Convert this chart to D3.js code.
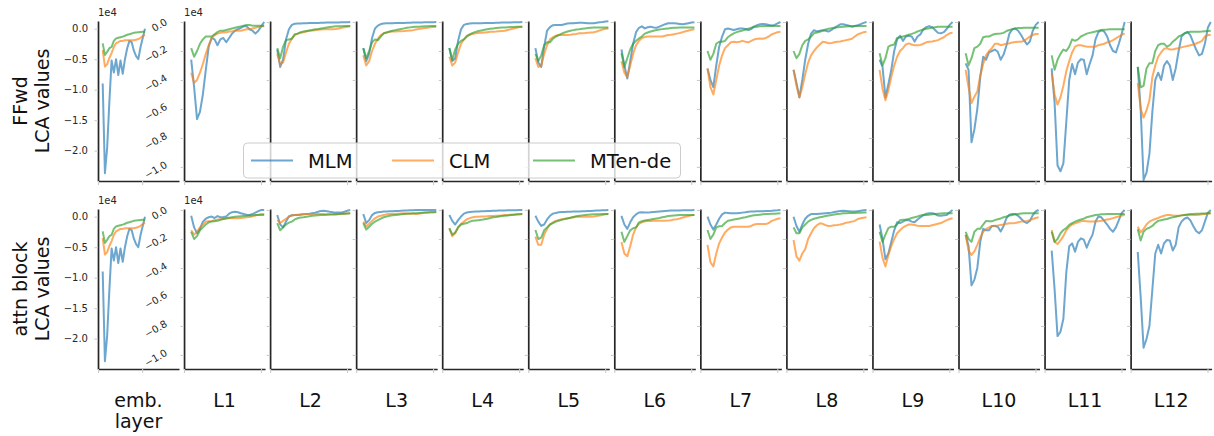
<!DOCTYPE html>
<html>
<head>
<meta charset="utf-8">
<script src="https://cdn.jsdelivr.net/npm/d3@7"></script>
<style>
  body { margin: 0; background: #fff; }
  text { font-family: "DejaVu Sans", sans-serif; }
</style>
</head>
<body>
<div id="chart"></div>
<script>
// labels
var models = ["MLM", "CLM", "MTen-de"];
var colLabels = ["emb.\nlayer", "L1", "L2", "L3", "L4", "L5", "L6", "L7", "L8", "L9", "L10", "L11", "L12"];
var rowLabels = ["FFwd\nLCA values", "attn block\nLCA values"];

// tick values (values are in units of 1e4)
var yTicksEmb = [0, -0.5, -1.0, -1.5, -2.0];
var yTicksL = [0, -0.2, -0.4, -0.6, -0.8, -1.0];

// embedding layer (same for both rows)
var embMLM = [-0.9, -2.37, -1.95, -1.2, -0.52, -0.72, -0.5, -0.76, -0.52, -0.74, -0.5, -0.32, -0.2, -0.22, -0.36, -0.45, -0.5, -0.3, -0.15, 0.0];
var embCLM = [-0.35, -0.62, -0.58, -0.48, -0.4, -0.3, -0.24, -0.22, -0.2, -0.2, -0.19, -0.19, -0.19, -0.19, -0.19, -0.18, -0.17, -0.15, -0.12, -0.1];
var embMTen = [-0.24, -0.43, -0.38, -0.32, -0.3, -0.2, -0.16, -0.15, -0.14, -0.13, -0.115, -0.1, -0.09, -0.08, -0.068, -0.062, -0.058, -0.055, -0.052, -0.05];

// FFwd rows, one array per layer L1..L12
var ffwdMLM = [
  [-0.26, -0.45, -0.67, -0.62, -0.50, -0.33, -0.17, -0.11, -0.12, -0.16, -0.12, -0.11, -0.14, -0.11, -0.08, -0.06, -0.05, -0.04, -0.03, -0.03, -0.05, -0.06, -0.08, -0.06, -0.03, 0.0],
  [-0.19, -0.31, -0.26, -0.12, -0.05, -0.02, -0.012, -0.01, -0.01, -0.008, -0.008, -0.007, -0.007, -0.006, -0.006, -0.005, -0.005, -0.004, -0.004, -0.003, -0.003, -0.003, -0.002, -0.002, -0.001, 0.0],
  [-0.18, -0.27, -0.22, -0.11, -0.045, -0.025, -0.014, -0.01, -0.009, -0.008, -0.008, -0.007, -0.007, -0.006, -0.006, -0.005, -0.005, -0.004, -0.004, -0.003, -0.003, -0.002, -0.002, -0.001, -0.001, 0.0],
  [-0.18, -0.27, -0.25, -0.13, -0.05, -0.02, -0.013, -0.01, -0.009, -0.009, -0.008, -0.008, -0.007, -0.007, -0.006, -0.006, -0.005, -0.005, -0.004, -0.004, -0.003, -0.003, -0.002, -0.002, -0.001, 0.0],
  [-0.18, -0.28, -0.31, -0.17, -0.06, -0.035, -0.022, -0.02, -0.02, -0.02, -0.015, -0.01, -0.009, -0.008, -0.006, -0.005, -0.005, -0.006, -0.008, -0.009, -0.008, -0.005, -0.002, 0.0, 0.003, 0.005],
  [-0.19, -0.3, -0.39, -0.27, -0.15, -0.07, -0.04, -0.03, -0.044, -0.036, -0.032, -0.038, -0.04, -0.032, -0.023, -0.015, -0.009, -0.009, -0.009, -0.01, -0.013, -0.016, -0.012, -0.008, -0.004, -0.002],
  [-0.32, -0.4, -0.45, -0.3, -0.17, -0.1, -0.05, -0.045, -0.05, -0.055, -0.05, -0.045, -0.044, -0.048, -0.055, -0.048, -0.03, -0.022, -0.016, -0.014, -0.016, -0.02, -0.024, -0.02, -0.01, 0.0],
  [-0.33, -0.42, -0.52, -0.4, -0.26, -0.15, -0.08, -0.057, -0.065, -0.06, -0.056, -0.06, -0.066, -0.055, -0.04, -0.028, -0.016, -0.015, -0.02, -0.026, -0.032, -0.028, -0.022, -0.015, -0.006, 0.0],
  [-0.26, -0.31, -0.52, -0.43, -0.33, -0.2, -0.12, -0.095, -0.13, -0.1, -0.095, -0.1, -0.135, -0.1, -0.085, -0.05, -0.035, -0.028, -0.035, -0.055, -0.075, -0.078, -0.07, -0.048, -0.02, 0.0],
  [-0.285, -0.33, -0.83, -0.74, -0.6, -0.38, -0.24, -0.26, -0.21, -0.2, -0.19, -0.205, -0.26, -0.225, -0.16, -0.08, -0.05, -0.045, -0.06, -0.09, -0.125, -0.155, -0.135, -0.06, -0.02, 0.0],
  [-0.32, -0.56, -0.99, -1.03, -0.975, -0.69, -0.4, -0.29, -0.36, -0.28, -0.257, -0.26, -0.36, -0.29, -0.23, -0.12, -0.07, -0.058, -0.065, -0.1, -0.16, -0.2, -0.21, -0.15, -0.08, 0.0],
  [-0.31, -0.6, -1.09, -1.04, -0.91, -0.62, -0.4, -0.35, -0.4, -0.3, -0.27, -0.3, -0.4, -0.32, -0.2, -0.1, -0.08, -0.068, -0.09, -0.14, -0.19, -0.23, -0.22, -0.15, -0.04, 0.0]
];
var ffwdCLM = [
  [-0.35, -0.42, -0.40, -0.35, -0.29, -0.22, -0.16, -0.11, -0.09, -0.08, -0.075, -0.07, -0.07, -0.065, -0.065, -0.06, -0.06, -0.06, -0.055, -0.05, -0.05, -0.045, -0.04, -0.035, -0.03, -0.03],
  [-0.22, -0.29, -0.28, -0.21, -0.15, -0.115, -0.09, -0.08, -0.075, -0.07, -0.065, -0.06, -0.058, -0.056, -0.054, -0.052, -0.05, -0.05, -0.05, -0.05, -0.048, -0.045, -0.04, -0.036, -0.032, -0.03],
  [-0.23, -0.3, -0.27, -0.2, -0.15, -0.115, -0.09, -0.078, -0.072, -0.068, -0.066, -0.065, -0.064, -0.063, -0.062, -0.06, -0.058, -0.056, -0.052, -0.048, -0.045, -0.042, -0.04, -0.037, -0.034, -0.032],
  [-0.24, -0.3, -0.28, -0.21, -0.15, -0.12, -0.095, -0.088, -0.082, -0.078, -0.076, -0.074, -0.072, -0.07, -0.068, -0.067, -0.066, -0.064, -0.062, -0.06, -0.055, -0.05, -0.045, -0.04, -0.035, -0.032],
  [-0.25, -0.31, -0.3, -0.22, -0.16, -0.12, -0.105, -0.095, -0.09, -0.09, -0.09, -0.09, -0.088, -0.085, -0.082, -0.078, -0.077, -0.076, -0.074, -0.072, -0.07, -0.065, -0.058, -0.052, -0.047, -0.044],
  [-0.27, -0.35, -0.38, -0.3, -0.22, -0.16, -0.13, -0.11, -0.104, -0.1, -0.1, -0.1, -0.1, -0.1, -0.1, -0.095, -0.09, -0.088, -0.084, -0.08, -0.076, -0.07, -0.064, -0.058, -0.053, -0.05],
  [-0.32, -0.45, -0.5, -0.4, -0.3, -0.23, -0.18, -0.16, -0.14, -0.136, -0.14, -0.136, -0.13, -0.136, -0.14, -0.13, -0.12, -0.115, -0.113, -0.115, -0.11, -0.1, -0.085, -0.078, -0.07, -0.067],
  [-0.33, -0.44, -0.52, -0.45, -0.36, -0.28, -0.23, -0.2, -0.175, -0.155, -0.136, -0.14, -0.147, -0.145, -0.14, -0.136, -0.134, -0.13, -0.125, -0.12, -0.115, -0.1, -0.085, -0.078, -0.07, -0.067],
  [-0.33, -0.46, -0.54, -0.47, -0.38, -0.3, -0.24, -0.2, -0.18, -0.155, -0.147, -0.155, -0.16, -0.16, -0.158, -0.15, -0.14, -0.136, -0.134, -0.13, -0.125, -0.115, -0.105, -0.09, -0.078, -0.074],
  [-0.33, -0.45, -0.56, -0.515, -0.48, -0.37, -0.29, -0.23, -0.2, -0.18, -0.15, -0.15, -0.16, -0.155, -0.15, -0.147, -0.142, -0.138, -0.136, -0.136, -0.13, -0.115, -0.1, -0.09, -0.083, -0.083],
  [-0.354, -0.5, -0.57, -0.52, -0.44, -0.34, -0.27, -0.21, -0.17, -0.16, -0.16, -0.165, -0.17, -0.17, -0.17, -0.17, -0.16, -0.155, -0.15, -0.14, -0.135, -0.125, -0.113, -0.1, -0.088, -0.078],
  [-0.42, -0.6, -0.66, -0.61, -0.54, -0.38, -0.3, -0.24, -0.21, -0.185, -0.18, -0.19, -0.19, -0.185, -0.18, -0.175, -0.17, -0.165, -0.16, -0.155, -0.148, -0.14, -0.13, -0.1, -0.09, -0.09]
];
var ffwdMTen = [
  [-0.18, -0.24, -0.2, -0.15, -0.12, -0.10, -0.10, -0.10, -0.085, -0.07, -0.06, -0.06, -0.055, -0.05, -0.045, -0.04, -0.035, -0.03, -0.025, -0.02, -0.02, -0.025, -0.025, -0.025, -0.025, -0.025],
  [-0.18, -0.25, -0.17, -0.125, -0.12, -0.115, -0.085, -0.08, -0.07, -0.066, -0.062, -0.058, -0.055, -0.05, -0.048, -0.045, -0.042, -0.038, -0.034, -0.032, -0.03, -0.03, -0.029, -0.028, -0.028, -0.028],
  [-0.18, -0.25, -0.2, -0.14, -0.12, -0.125, -0.1, -0.078, -0.072, -0.066, -0.06, -0.056, -0.052, -0.048, -0.044, -0.04, -0.037, -0.035, -0.033, -0.032, -0.031, -0.03, -0.029, -0.028, -0.028, -0.028],
  [-0.18, -0.26, -0.19, -0.15, -0.13, -0.12, -0.1, -0.085, -0.075, -0.068, -0.062, -0.058, -0.054, -0.05, -0.047, -0.044, -0.042, -0.04, -0.038, -0.037, -0.036, -0.035, -0.034, -0.033, -0.032, -0.032],
  [-0.22, -0.27, -0.23, -0.16, -0.14, -0.14, -0.115, -0.1, -0.09, -0.08, -0.072, -0.066, -0.06, -0.056, -0.052, -0.05, -0.047, -0.044, -0.042, -0.04, -0.038, -0.037, -0.037, -0.037, -0.037, -0.037],
  [-0.216, -0.31, -0.25, -0.19, -0.15, -0.13, -0.113, -0.1, -0.08, -0.072, -0.066, -0.06, -0.055, -0.052, -0.049, -0.046, -0.044, -0.042, -0.04, -0.039, -0.038, -0.037, -0.037, -0.037, -0.037, -0.037],
  [-0.2, -0.26, -0.22, -0.15, -0.136, -0.136, -0.13, -0.105, -0.09, -0.078, -0.07, -0.064, -0.058, -0.052, -0.046, -0.04, -0.034, -0.032, -0.03, -0.029, -0.028, -0.028, -0.028, -0.028, -0.028, -0.028],
  [-0.2, -0.25, -0.22, -0.16, -0.13, -0.12, -0.1, -0.078, -0.072, -0.067, -0.06, -0.052, -0.046, -0.043, -0.04, -0.037, -0.034, -0.032, -0.031, -0.03, -0.029, -0.028, -0.028, -0.028, -0.028, -0.028],
  [-0.216, -0.3, -0.25, -0.17, -0.16, -0.155, -0.11, -0.105, -0.1, -0.095, -0.088, -0.082, -0.075, -0.065, -0.058, -0.052, -0.046, -0.043, -0.04, -0.036, -0.033, -0.032, -0.032, -0.032, -0.032, -0.032],
  [-0.216, -0.3, -0.25, -0.18, -0.17, -0.15, -0.105, -0.1, -0.1, -0.09, -0.083, -0.081, -0.079, -0.075, -0.062, -0.055, -0.05, -0.044, -0.042, -0.041, -0.04, -0.04, -0.04, -0.04, -0.04, -0.04],
  [-0.23, -0.33, -0.26, -0.22, -0.19, -0.2, -0.17, -0.12, -0.13, -0.12, -0.1, -0.09, -0.08, -0.075, -0.07, -0.066, -0.06, -0.055, -0.053, -0.052, -0.05, -0.05, -0.05, -0.05, -0.05, -0.05],
  [-0.31, -0.45, -0.44, -0.32, -0.285, -0.285, -0.2, -0.16, -0.15, -0.15, -0.17, -0.16, -0.136, -0.12, -0.1, -0.09, -0.078, -0.072, -0.067, -0.067, -0.067, -0.067, -0.066, -0.064, -0.062, -0.06]
];

// attention block rows, one array per layer L1..L12
var attnMLM = [
  [-0.04, -0.12, -0.16, -0.13, -0.08, -0.06, -0.05, -0.045, -0.055, -0.042, -0.05, -0.048, -0.045, -0.025, -0.015, -0.012, -0.015, -0.022, -0.028, -0.032, -0.034, -0.028, -0.018, -0.008, 0.0, 0.0],
  [-0.034, -0.1, -0.12, -0.08, -0.045, -0.036, -0.034, -0.034, -0.033, -0.03, -0.028, -0.026, -0.022, -0.018, -0.012, -0.006, -0.005, -0.008, -0.012, -0.015, -0.018, -0.018, -0.018, -0.012, -0.005, 0.0],
  [-0.028, -0.09, -0.07, -0.035, -0.02, -0.016, -0.013, -0.011, -0.01, -0.009, -0.008, -0.007, -0.006, -0.005, -0.004, -0.003, -0.002, -0.001, 0, 0, 0, 0, 0, 0, 0, 0],
  [-0.034, -0.075, -0.1, -0.07, -0.045, -0.025, -0.017, -0.014, -0.012, -0.011, -0.01, -0.009, -0.008, -0.007, -0.006, -0.005, -0.005, -0.004, -0.004, -0.003, -0.002, -0.002, -0.001, -0.001, 0, 0],
  [-0.04, -0.08, -0.11, -0.1, -0.065, -0.04, -0.025, -0.02, -0.016, -0.014, -0.013, -0.012, -0.012, -0.011, -0.011, -0.01, -0.009, -0.008, -0.007, -0.006, -0.005, -0.004, -0.003, -0.002, -0.001, 0],
  [-0.04, -0.1, -0.13, -0.085, -0.05, -0.03, -0.017, -0.016, -0.017, -0.018, -0.016, -0.014, -0.012, -0.01, -0.008, -0.006, -0.005, -0.004, -0.004, -0.003, -0.003, -0.002, -0.002, -0.001, -0.001, 0],
  [-0.046, -0.1, -0.135, -0.1, -0.06, -0.03, -0.018, -0.02, -0.022, -0.023, -0.022, -0.02, -0.018, -0.016, -0.012, -0.011, -0.01, -0.009, -0.008, -0.008, -0.007, -0.006, -0.005, -0.003, -0.002, 0],
  [-0.046, -0.11, -0.15, -0.1, -0.06, -0.04, -0.028, -0.028, -0.028, -0.026, -0.024, -0.022, -0.02, -0.018, -0.014, -0.01, -0.006, -0.005, -0.006, -0.008, -0.01, -0.011, -0.008, -0.005, -0.002, 0],
  [-0.1, -0.2, -0.34, -0.3, -0.22, -0.14, -0.085, -0.09, -0.08, -0.07, -0.07, -0.08, -0.085, -0.065, -0.05, -0.035, -0.025, -0.022, -0.022, -0.028, -0.038, -0.04, -0.036, -0.034, -0.015, 0],
  [-0.17, -0.25, -0.52, -0.48, -0.4, -0.22, -0.13, -0.14, -0.14, -0.11, -0.11, -0.115, -0.148, -0.11, -0.055, -0.032, -0.028, -0.028, -0.04, -0.06, -0.08, -0.09, -0.075, -0.035, -0.01, 0],
  [-0.28, -0.55, -0.87, -0.84, -0.75, -0.43, -0.25, -0.23, -0.287, -0.22, -0.195, -0.205, -0.26, -0.21, -0.17, -0.08, -0.045, -0.05, -0.075, -0.1, -0.13, -0.15, -0.12, -0.07, -0.02, 0],
  [-0.29, -0.6, -0.95, -0.89, -0.8, -0.55, -0.3, -0.24, -0.3, -0.23, -0.207, -0.21, -0.28, -0.24, -0.12, -0.08, -0.06, -0.052, -0.07, -0.11, -0.145, -0.16, -0.14, -0.08, -0.02, 0]
];
var attnCLM = [
  [-0.14, -0.17, -0.15, -0.12, -0.1, -0.08, -0.077, -0.075, -0.07, -0.066, -0.063, -0.06, -0.058, -0.057, -0.057, -0.057, -0.057, -0.055, -0.053, -0.05, -0.048, -0.044, -0.038, -0.032, -0.028, -0.028],
  [-0.07, -0.09, -0.075, -0.06, -0.045, -0.038, -0.034, -0.032, -0.03, -0.029, -0.028, -0.028, -0.028, -0.028, -0.028, -0.028, -0.028, -0.029, -0.03, -0.031, -0.032, -0.03, -0.028, -0.026, -0.024, -0.023],
  [-0.08, -0.113, -0.095, -0.075, -0.057, -0.045, -0.04, -0.035, -0.03, -0.028, -0.027, -0.026, -0.025, -0.024, -0.023, -0.024, -0.025, -0.026, -0.028, -0.026, -0.022, -0.019, -0.017, -0.016, -0.015, -0.014],
  [-0.126, -0.18, -0.16, -0.12, -0.095, -0.08, -0.064, -0.056, -0.05, -0.047, -0.046, -0.045, -0.044, -0.043, -0.042, -0.041, -0.04, -0.039, -0.037, -0.035, -0.034, -0.033, -0.032, -0.03, -0.029, -0.028],
  [-0.184, -0.24, -0.24, -0.17, -0.13, -0.1, -0.085, -0.075, -0.068, -0.064, -0.06, -0.057, -0.054, -0.05, -0.047, -0.046, -0.046, -0.046, -0.046, -0.046, -0.045, -0.042, -0.038, -0.034, -0.03, -0.028],
  [-0.22, -0.3, -0.32, -0.25, -0.17, -0.12, -0.095, -0.085, -0.078, -0.076, -0.075, -0.074, -0.074, -0.074, -0.074, -0.074, -0.073, -0.07, -0.066, -0.063, -0.058, -0.052, -0.046, -0.042, -0.037, -0.034],
  [-0.24, -0.36, -0.39, -0.3, -0.23, -0.19, -0.155, -0.135, -0.12, -0.115, -0.115, -0.115, -0.115, -0.115, -0.115, -0.11, -0.1, -0.097, -0.097, -0.097, -0.097, -0.09, -0.075, -0.068, -0.06, -0.057],
  [-0.207, -0.32, -0.35, -0.3, -0.27, -0.2, -0.16, -0.126, -0.105, -0.092, -0.095, -0.105, -0.11, -0.108, -0.105, -0.103, -0.1, -0.095, -0.088, -0.085, -0.08, -0.075, -0.062, -0.057, -0.053, -0.05],
  [-0.218, -0.33, -0.39, -0.31, -0.25, -0.2, -0.16, -0.14, -0.12, -0.11, -0.1, -0.1, -0.103, -0.108, -0.11, -0.11, -0.11, -0.11, -0.105, -0.1, -0.095, -0.09, -0.08, -0.07, -0.062, -0.057],
  [-0.172, -0.28, -0.31, -0.285, -0.24, -0.19, -0.15, -0.13, -0.12, -0.11, -0.108, -0.106, -0.103, -0.1, -0.095, -0.092, -0.092, -0.09, -0.085, -0.08, -0.078, -0.075, -0.07, -0.062, -0.055, -0.05],
  [-0.138, -0.22, -0.235, -0.21, -0.18, -0.14, -0.115, -0.1, -0.092, -0.085, -0.078, -0.075, -0.077, -0.08, -0.08, -0.08, -0.077, -0.074, -0.07, -0.066, -0.062, -0.056, -0.05, -0.044, -0.038, -0.034],
  [-0.115, -0.155, -0.13, -0.1, -0.08, -0.07, -0.062, -0.055, -0.046, -0.04, -0.035, -0.034, -0.037, -0.04, -0.04, -0.037, -0.034, -0.034, -0.034, -0.034, -0.034, -0.033, -0.03, -0.027, -0.024, -0.023]
];
var attnMTen = [
  [-0.15, -0.2, -0.18, -0.14, -0.12, -0.1, -0.085, -0.08, -0.077, -0.074, -0.068, -0.062, -0.057, -0.053, -0.05, -0.047, -0.045, -0.043, -0.041, -0.04, -0.038, -0.037, -0.035, -0.034, -0.034, -0.034],
  [-0.09, -0.14, -0.12, -0.1, -0.087, -0.08, -0.065, -0.057, -0.052, -0.05, -0.046, -0.043, -0.04, -0.038, -0.036, -0.035, -0.034, -0.033, -0.031, -0.03, -0.028, -0.027, -0.026, -0.025, -0.024, -0.023],
  [-0.09, -0.135, -0.115, -0.095, -0.08, -0.07, -0.06, -0.05, -0.045, -0.04, -0.036, -0.034, -0.032, -0.03, -0.028, -0.026, -0.024, -0.023, -0.022, -0.02, -0.019, -0.018, -0.017, -0.016, -0.015, -0.014],
  [-0.126, -0.17, -0.155, -0.12, -0.1, -0.095, -0.09, -0.08, -0.074, -0.072, -0.07, -0.068, -0.064, -0.06, -0.055, -0.05, -0.048, -0.045, -0.042, -0.04, -0.038, -0.035, -0.033, -0.031, -0.029, -0.028],
  [-0.138, -0.2, -0.19, -0.14, -0.12, -0.1, -0.09, -0.08, -0.074, -0.068, -0.063, -0.058, -0.053, -0.048, -0.043, -0.04, -0.037, -0.035, -0.033, -0.031, -0.03, -0.029, -0.029, -0.028, -0.028, -0.028],
  [-0.15, -0.22, -0.18, -0.14, -0.126, -0.12, -0.085, -0.078, -0.073, -0.069, -0.066, -0.062, -0.058, -0.055, -0.05, -0.046, -0.042, -0.04, -0.038, -0.036, -0.035, -0.034, -0.034, -0.034, -0.034, -0.034],
  [-0.138, -0.2, -0.17, -0.12, -0.112, -0.11, -0.09, -0.074, -0.07, -0.066, -0.062, -0.058, -0.054, -0.05, -0.045, -0.04, -0.036, -0.034, -0.032, -0.03, -0.028, -0.027, -0.026, -0.025, -0.024, -0.023],
  [-0.12, -0.16, -0.16, -0.12, -0.1, -0.08, -0.068, -0.06, -0.055, -0.05, -0.046, -0.042, -0.038, -0.034, -0.031, -0.028, -0.025, -0.023, -0.022, -0.021, -0.02, -0.02, -0.019, -0.019, -0.018, -0.018],
  [-0.15, -0.22, -0.17, -0.125, -0.115, -0.115, -0.1, -0.07, -0.068, -0.066, -0.062, -0.055, -0.05, -0.045, -0.038, -0.034, -0.034, -0.032, -0.03, -0.028, -0.026, -0.024, -0.023, -0.023, -0.023, -0.023],
  [-0.15, -0.2, -0.22, -0.15, -0.13, -0.13, -0.1, -0.075, -0.078, -0.078, -0.07, -0.064, -0.058, -0.05, -0.045, -0.038, -0.034, -0.03, -0.027, -0.024, -0.023, -0.023, -0.023, -0.023, -0.023, -0.023],
  [-0.15, -0.22, -0.2, -0.16, -0.138, -0.125, -0.103, -0.09, -0.08, -0.072, -0.065, -0.06, -0.05, -0.045, -0.04, -0.034, -0.032, -0.03, -0.029, -0.028, -0.028, -0.028, -0.028, -0.028, -0.028, -0.028],
  [-0.133, -0.21, -0.15, -0.13, -0.122, -0.11, -0.09, -0.075, -0.07, -0.066, -0.062, -0.055, -0.05, -0.046, -0.042, -0.037, -0.034, -0.031, -0.028, -0.027, -0.026, -0.025, -0.024, -0.024, -0.023, -0.023]
];

// layout
var svgWidth = 1214;
var svgHeight = 436;
var panelLeft = 98, panelStep = 86.05, panelW = 81, panelH = 160;
var rowTop = [21, 209];

// axis limits (checkpoint index on x)
var xDomainEmb = [-2.11, 34.27], xTicksEmb = [-2.11, 17.7];
var xDomainL = [-2.45, 25.3], xTicksL = [-2.45, 23.9];
var yDomainEmb = [-2.497, 0.126];
var yDomainL = [-1.097, 0.007];

var colors = ["#1f77b4", "#ff7f0e", "#2ca02c"];
var spineColor = "#262626", tickColor = "#cccccc";
var fmt = d3.format(".1f");

var svg = d3.select("#chart")
  .append("svg")
  .attr("width", svgWidth)
  .attr("height", svgHeight);

function styleAxis(g) {
  g.select(".domain").attr("stroke", spineColor).attr("stroke-width", 1.7);
  g.selectAll(".tick line").attr("stroke", tickColor).attr("stroke-width", 1.1);
  g.selectAll(".tick text").attr("fill", spineColor).style("font-size", "10px")
    .style("font-family", "DejaVu Sans, sans-serif");
}

rowLabels.forEach(function(rowName, r) {
  var top = rowTop[r];
  var rowSeries = r === 0 ? [ffwdMLM, ffwdCLM, ffwdMTen] : [attnMLM, attnCLM, attnMTen];

  colLabels.forEach(function(colName, c) {
    var left = panelLeft + c * panelStep;
    var isEmb = c === 0;

    var x = d3.scaleLinear().domain(isEmb ? xDomainEmb : xDomainL).range([left, left + panelW]);
    var y = d3.scaleLinear().domain(isEmb ? yDomainEmb : yDomainL).range([top + panelH, top]);

    var panel = svg.append("g");

    //lines first, spines sit above them
    var panelData = isEmb ? [embMLM, embCLM, embMTen] : rowSeries.map(function(s) { return s[c - 1]; });
    var line = d3.line().x(function(d, i) { return x(i); }).y(function(d) { return y(d); });

    panelData.forEach(function(vals, m) {
      panel.append("path")
        .datum(vals)
        .attr("d", line)
        .attr("fill", "none")
        .attr("stroke", colors[m])
        .attr("stroke-opacity", 0.65)
        .attr("stroke-width", 2)
        .attr("stroke-linejoin", "round");
    });

    //y axis
    var yAxis = d3.axisLeft(y)
      .tickValues(isEmb ? yTicksEmb : yTicksL)
      .tickSize(3.5)
      .tickSizeOuter(0)
      .tickPadding(6.5)
      .tickFormat(isEmb ? fmt : "");
    var yG = panel.append("g").attr("transform", "translate(" + left + ",0)").call(yAxis);
    styleAxis(yG);

    //x axis
    var xAxis = d3.axisBottom(x)
      .tickValues(isEmb ? xTicksEmb : xTicksL)
      .tickSize(4)
      .tickSizeOuter(0)
      .tickFormat("");
    var xG = panel.append("g").attr("transform", "translate(0," + (top + panelH) + ")").call(xAxis);
    styleAxis(xG);

    //rotated labels on the first shared axis
    if (c === 1) {
      yTicksL.forEach(function(v) {
        var t = panel.append("text")
          .text(fmt(v))
          .attr("fill", spineColor)
          .style("font-size", "10px")
          .attr("text-anchor", "middle")
          .attr("dominant-baseline", "central");
        var len = t.node().getComputedTextLength();
        var bw = len * Math.cos(Math.PI / 6) + 7.5 * Math.sin(Math.PI / 6);
        var cx = left - 16 - bw / 2;
        var cy = y(v) + 3;
        t.attr("x", cx).attr("y", cy).attr("transform", "rotate(-30," + cx + "," + cy + ")");
      });
    }

    //offset label
    if (c <= 1) {
      panel.append("text")
        .attr("x", left)
        .attr("y", top - 5.5)
        .attr("fill", spineColor)
        .style("font-size", "10px")
        .text("1e4");
    }

    //column titles under the bottom row
    if (r === rowLabels.length - 1) {
      colName.split("\n").forEach(function(part, k) {
        svg.append("text")
          .attr("x", left + panelW / 2)
          .attr("y", 407 + k * 21)
          .attr("text-anchor", "middle")
          .attr("fill", "#111")
          .style("font-size", "19px")
          .text(part);
      });
    }
  });

  //row titles
  rowName.split("\n").forEach(function(part, k) {
    svg.append("text")
      .attr("transform", "translate(" + (27 + k * 22) + "," + (top + panelH / 2) + ") rotate(-90)")
      .attr("text-anchor", "middle")
      .attr("fill", "#111")
      .style("font-size", "19px")
      .text(part);
  });
});

//legend on top of the panels
var legendX = 243.5, legendY = 143, legendW = 437, legendH = 35, itemStep = 141;
var legend = svg.append("g");
legend.append("rect")
  .attr("x", legendX)
  .attr("y", legendY)
  .attr("width", legendW)
  .attr("height", legendH)
  .attr("rx", 4)
  .attr("fill", "#fff")
  .attr("fill-opacity", 0.8)
  .attr("stroke", "#cccccc")
  .attr("stroke-width", 1);

models.forEach(function(name, m) {
  var ix = legendX + 7.5 + m * itemStep;
  var iy = legendY + legendH / 2;
  legend.append("line")
    .attr("x1", ix).attr("x2", ix + 42)
    .attr("y1", iy).attr("y2", iy)
    .attr("stroke", colors[m])
    .attr("stroke-opacity", 0.65)
    .attr("stroke-width", 2);
  legend.append("text")
    .attr("x", ix + 57)
    .attr("y", iy + 7)
    .attr("fill", "#111")
    .style("font-size", "19.5px")
    .text(name);
});
</script>
</body>
</html>
